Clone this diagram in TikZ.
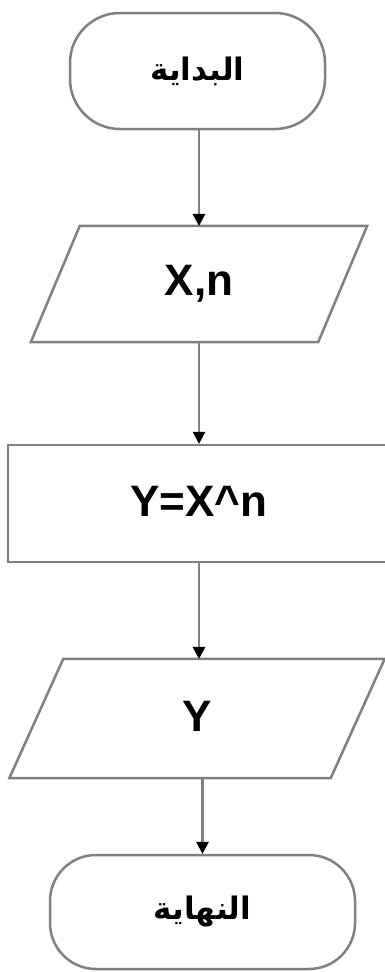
\documentclass[tikz,border=0pt]{standalone}
\usepackage{fontspec}
\setmainfont{Liberation Sans}
\newfontfamily\arabicfont[Script=Arabic]{DejaVu Sans}
\TeXXeTstate=1
\usetikzlibrary{arrows.meta}
\definecolor{edge}{RGB}{128,128,128}
\newcommand{\labfont}{\fontsize{44}{50}\selectfont\bfseries}
\newcommand{\arfont}{\arabicfont\fontsize{31}{36}\selectfont\bfseries}
\begin{document}
\begin{tikzpicture}[x=1pt,y=-1pt,
  outline/.style={draw=edge, line width=2.5pt, line join=miter},
  term/.style={rectangle, draw=edge, line width=2.5pt, rounded corners=50pt, inner sep=0pt, font=\arfont},
  io/.style={rectangle, inner sep=0pt, font=\labfont},
  box/.style={rectangle, draw=edge, line width=2.5pt, inner sep=0pt, font=\labfont},
  link/.style={draw=edge, line width=2.5pt, -{Triangle[length=12pt,width=13pt,color=black,line width=0pt]}}]
\useasboundingbox (0,0) rectangle (385,972);
\fill[white] (0,0) rectangle (385,972);

\node[term, minimum width=255pt, minimum height=116pt] (start) at (197.5,71) {\raisebox{4pt}{\beginR البداية\endR}};

\node[io, minimum width=287pt, minimum height=116pt] (in1) at (199,284) {\raisebox{0pt}{X,n}};
\draw[outline] ([xshift=24.5pt]in1.north west) -- ([xshift=24.5pt]in1.north east)
  -- ([xshift=-24.5pt]in1.south east) -- ([xshift=-24.5pt]in1.south west) -- cycle;

\node[box, minimum width=382pt, minimum height=117pt] (proc) at (199,503.5) {\raisebox{5pt}{Y=X\textasciicircum n}};

\node[io, minimum width=321pt, minimum height=119pt] (out) at (197,718.5) {\raisebox{5pt}{Y}};
\draw[outline] ([xshift=27pt]out.north west) -- ([xshift=27pt]out.north east)
  -- ([xshift=-27pt]out.south east) -- ([xshift=-27pt]out.south west) -- cycle;

\node[term, minimum width=305pt, minimum height=114pt, rounded corners=46pt] (finish) at (202.5,912) {\raisebox{3pt}{\beginR النهاية\endR}};

\draw[link] (in1.north |- start.south) -- (in1.north);
\draw[link] (in1.south) -- (in1.south |- proc.north);
\draw[link] (in1.south |- proc.south) -- (in1.south |- out.north);
\draw[link] (finish.north |- out.south) -- (finish.north);
\end{tikzpicture}
\end{document}
